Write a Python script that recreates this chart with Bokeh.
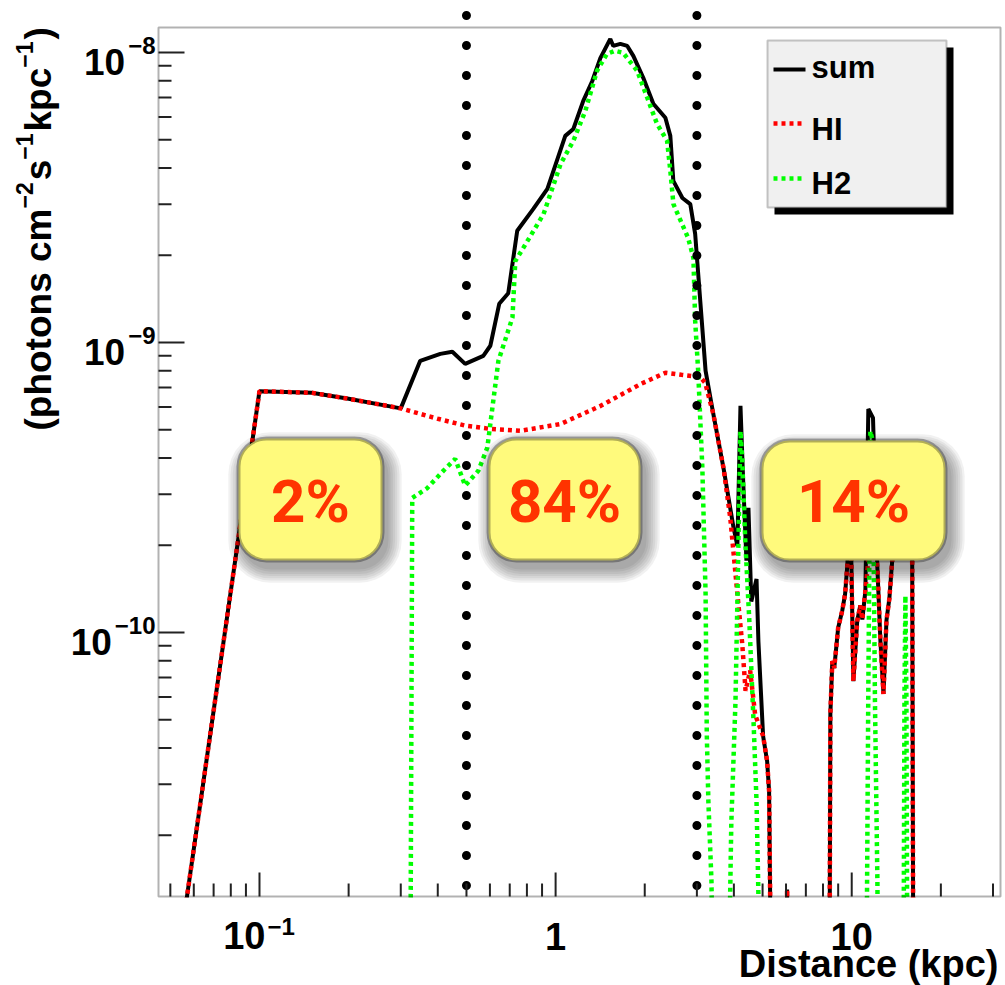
import math
from bokeh.plotting import figure
from bokeh.models import Range1d, Label, BoxAnnotation
from bokeh.embed import file_html
from bokeh.resources import INLINE

# ---------------- data ----------------
sum_x = [0.05, 0.1, 0.15, 0.2, 0.3, 0.349, 0.408, 0.448, 0.495, 0.570, 0.602, 0.645, 0.692,
         0.742, 0.841, 0.938, 1.078, 1.148, 1.24, 1.33, 1.416, 1.53, 1.566, 1.654, 1.746, 1.83,
         1.977, 2.138, 2.348, 2.44, 2.498, 2.68, 2.85, 2.96, 3.08, 3.21, 3.41, 3.69, 3.98, 4.11,
         4.21, 4.30, 4.41, 4.48, 4.58, 4.77, 4.84, 5.02, 5.18, 5.26, 5.35, 6.0, 6.05, 6.1,
         8.41, 8.47, 8.60, 8.73, 9.0, 9.29, 9.5, 9.66, 9.82, 9.97, 10.13, 10.44, 10.69, 10.86,
         11.12, 11.38, 11.8, 12.21, 12.5, 12.8, 13.1, 13.4, 13.7, 14.2, 15.2, 16.0, 16.15]
sum_y = [4.9e-12, 6.8e-10, 6.71e-10, 6.4e-10, 5.93e-10, 8.65e-10, 9.14e-10, 9.29e-10, 8.44e-10,
         9.0e-10, 9.75e-10, 1.36e-9, 1.48e-9, 2.43e-9, 2.89e-9, 3.39e-9, 5.16e-9, 5.45e-9, 6.81e-9,
         7.98e-9, 9.57e-9, 1.114e-8, 1.054e-8, 1.071e-8, 1.054e-8, 9.74e-9, 8.18e-9, 6.66e-9,
         5.96e-9, 5.16e-9, 3.61e-9, 3.15e-9, 3.0e-9, 2.37e-9, 1.39e-9, 7.98e-10, 5.66e-10, 3.69e-10,
         2.33e-10, 1.99e-10, 6.05e-10, 3.33e-10, 1.77e-10, 2.69e-10, 1.28e-10, 1.53e-10, 9.35e-11,
         4.4e-11, 3.6e-11, 2.84e-11, 5e-12, 5e-12, 1.3e-11, 5e-12,
         5e-12, 5.24e-11, 7.97e-11, 7.55e-11, 1.04e-10, 1.19e-10, 1.36e-10, 1.7e-10, 2.4e-10,
         1.77e-10, 6.8e-11, 1.1e-10, 1.24e-10, 1.11e-10, 1.39e-10, 5.9e-10, 5.5e-10, 1.67e-10,
         9.35e-11, 6.14e-11, 1.1e-10, 1.31e-10, 1.77e-10, 2.4e-10, 2.4e-10, 2.0e-10, 5e-12]

hi_x = [0.05, 0.1, 0.15, 0.2, 0.3, 0.4, 0.5, 0.6, 0.76, 1.04, 1.42, 1.94, 2.35, 2.66, 3.08, 3.20,
        3.41, 3.69, 3.89, 4.11, 4.27, 4.38, 4.54, 4.72, 5.02, 5.18, 5.26, 5.35, 6.0, 6.05, 6.1,
        8.41, 8.47, 8.60, 8.73, 9.0, 9.29, 9.5, 9.66, 9.82, 9.97, 10.13, 10.44, 10.69, 10.86,
        11.12, 11.5, 12.0, 12.21, 12.5, 12.8, 13.1, 13.4, 13.7, 14.2, 15.2, 16.0, 16.15]
hi_y = [4.9e-12, 6.8e-10, 6.71e-10, 6.4e-10, 5.93e-10, 5.46e-10, 5.16e-10, 5.04e-10, 4.96e-10,
        5.24e-10, 6.05e-10, 7.2e-10, 7.87e-10, 7.74e-10, 7.6e-10, 7.26e-10, 5.66e-10, 3.69e-10,
        2.48e-10, 1.36e-10, 9.1e-11, 6.3e-11, 7.4e-11, 5.2e-11, 4.4e-11, 3.6e-11, 2.84e-11, 5e-12,
        5e-12, 1.3e-11, 5e-12,
        5e-12, 5.24e-11, 7.97e-11, 7.55e-11, 1.04e-10, 1.19e-10, 1.36e-10, 1.7e-10, 2.4e-10,
        1.77e-10, 6.8e-11, 1.1e-10, 1.24e-10, 1.11e-10, 1.39e-10, 2.0e-10, 2.0e-10, 1.67e-10,
        9.35e-11, 6.14e-11, 1.1e-10, 1.31e-10, 1.77e-10, 2.4e-10, 2.4e-10, 2.0e-10, 5e-12]

h2_x = [0.323, 0.328, 0.3687, 0.4175, 0.458, 0.495, 0.548, 0.588, 0.616, 0.641, 0.715, 0.731,
        0.778, 0.91, 1.04, 1.148, 1.26, 1.38, 1.49, 1.585, 1.69, 1.886, 2.04, 2.20, 2.38, 2.44,
        2.50, 2.80, 2.92, 2.96, 3.03, 3.13, 3.21, 3.24, 3.28, 3.36, 3.40,
        3.83, 3.92, 4.05, 4.11, 4.21, 4.27, 4.37, 4.51, 4.66, 4.77, 4.84, 4.91,
        11.2, 11.27, 11.37, 11.56, 11.77, 11.98, 12.21, 12.3,
        14.95, 15.07, 15.18, 15.30, 15.42]
h2_y = [5e-12, 2.91e-10, 3.15e-10, 3.61e-10, 3.97e-10, 3.21e-10, 3.61e-10, 4.34e-10, 6.3e-10,
        8.65e-10, 1.22e-9, 1.91e-9, 2.12e-9, 2.77e-9, 4.13e-9, 4.96e-9, 6.29e-9, 8.65e-9, 9.89e-9,
        1.014e-8, 9.98e-9, 8.65e-9, 6.98e-9, 5.68e-9, 4.96e-9, 3.91e-9, 3.0e-9, 2.30e-9, 1.96e-9,
        1.19e-9, 7.98e-10, 3.70e-10, 1.36e-10, 4.47e-11, 2.62e-11, 1.39e-11, 5e-12,
        5e-12, 2.19e-11, 5.8e-11, 1.28e-10, 4.95e-10, 3.91e-10, 2.07e-10, 1.10e-10, 4.95e-11,
        2.62e-11, 1.25e-11, 5e-12,
        5e-12, 1.39e-11, 5.8e-11, 4.95e-10, 4.6e-10, 5.8e-11, 1.39e-11, 5e-12,
        5e-12, 6e-11, 1.34e-10, 6e-11, 5e-12]

boundaries = [0.5, 3.0]
fractions = ["2%", "84%", "14%"]
legend_names = ["sum", "HI", "H2"]
x_major = [0.1, 1, 10]
x_tick_text = [("10", "\u22121"), ("1", ""), ("10", "")]
y_major = [1e-10, 1e-9, 1e-8]
y_tick_text = [("10", "\u221210"), ("10", "\u22129"), ("10", "\u22128")]
x_title = "Distance (kpc)"
y_title_parts = [("(photons cm", False), ("\u22122", True), ("s", False), ("\u22121", True),
                 ("kpc", False), ("\u22121", True), (")", False)]

# ---------------- layout helpers ----------------
CW, CH = 1005, 985
XMIN, XMAX = 0.0456, 31.8          # axis range of the plotting frame
YMIN, YMAX = 1.23e-11, 1.22e-8
FL, FR, FT, FB = 158, 1000, 27, 896  # frame edges in canvas pixels
LX0, LX1 = math.log10(XMIN), math.log10(XMAX)
LY0, LY1 = math.log10(YMIN), math.log10(YMAX)

def xd(px):
    return 10 ** (LX0 + (px - FL) / (FR - FL) * (LX1 - LX0))

def yd(py):
    return 10 ** (LY0 + (FB - py) / (FB - FT) * (LY1 - LY0))

def xp(v):
    return FL + (math.log10(v) - LX0) / (LX1 - LX0) * (FR - FL)

def yp(v):
    return FB - (math.log10(v) - LY0) / (LY1 - LY0) * (FB - FT)

W = {'(': 333, ')': 333, 'p': 611, 'h': 611, 'o': 611, 't': 333, 'n': 611, 's': 556, ' ': 278,
     'c': 556, 'm': 889, 'k': 556, '\u2212': 584}

def tw(s, size):
    return sum(W.get(ch, 556) for ch in s) * size / 1000.0

BL = 0.37  # baseline correction of Label text (fraction of font size)
FONT = "Liberation Sans"

p = figure(width=CW, height=CH, x_axis_type="log", y_axis_type="log",
           x_range=Range1d(xd(0), xd(CW)), y_range=Range1d(yd(CH), yd(0)),
           output_backend="svg", toolbar_location=None,
           x_axis_location=None, y_axis_location=None,
           min_border=0, min_border_left=0, min_border_right=0, min_border_top=0,
           min_border_bottom=0)
p.background_fill_color = "white"
p.border_fill_color = "white"
p.outline_line_color = None
p.grid.visible = False

def lab(px, py, text, size, align="left", angle=0.0, color="black", font=FONT):
    if angle:
        x, y = xd(px - BL * size), yd(py)
    else:
        x, y = xd(px), yd(py - BL * size)
    p.add_layout(Label(x=x, y=y, text=text, angle=angle, text_font=font,
                       text_font_style="bold", text_font_size=f"{size}px", text_color=color,
                       text_align=align, text_baseline="alphabetic"))

def minors(lo, hi):
    out = []
    for e in range(int(math.floor(math.log10(lo))), int(math.ceil(math.log10(hi))) + 1):
        for m in range(2, 10):
            v = m * 10 ** e
            if lo < v < hi:
                out.append(v)
    return out

# ---- curves ----
p.line(sum_x, sum_y, line_color="black", line_width=4)
p.line(hi_x, hi_y, line_color="#ff0000", line_width=4.5, line_dash="4 4")
p.line(h2_x, h2_y, line_color="#00ff00", line_width=4.5, line_dash="4 4")

# ---- region boundaries (dotted) ----
for b in boundaries:
    p.line([b, b], [yd(0), yd(FB)], line_color="black", line_width=9, line_dash="0 30",
           line_dash_offset=15, line_cap="round")

# ---- ticks ----
xmaj, xmin_ = x_major, minors(XMIN, XMAX)
ymaj, ymin_ = y_major, minors(YMIN, YMAX)
tick_style = dict(line_color="#222222", line_width=2)
p.segment(x0=xmaj, x1=xmaj, y0=[YMIN] * len(xmaj), y1=[yd(FB - 24)] * len(xmaj), **tick_style)
p.segment(x0=xmin_, x1=xmin_, y0=[YMIN] * len(xmin_), y1=[yd(FB - 13)] * len(xmin_), **tick_style)
p.segment(y0=ymaj, y1=ymaj, x0=[XMIN] * len(ymaj), x1=[xd(FL + 26)] * len(ymaj), **tick_style)
p.segment(y0=ymin_, y1=ymin_, x0=[XMIN] * len(ymin_), x1=[xd(FL + 13)] * len(ymin_), **tick_style)

# ---- mask below the frame, then the frame ----
p.add_layout(BoxAnnotation(left=xd(0), right=xd(CW), top=yd(FB + 1), bottom=yd(CH),
                           fill_color="white", fill_alpha=1, line_alpha=0))
p.add_layout(BoxAnnotation(left=XMIN, right=XMAX, top=YMAX, bottom=YMIN, fill_alpha=0,
                           line_color="black", line_width=2))

# ---- percentage boxes ----
box_px = [(238, 438, 382, 560), (488, 438, 640, 560), (761, 440, 945, 560)]
for (l, t, r, bt), txt in zip(box_px, fractions):
    for k in range(7):
        e = 1 + 2.2 * k
        p.add_layout(BoxAnnotation(left=xd(l + 4 - e), right=xd(r + 5 + e), top=yd(t + 8 - e),
                                   bottom=yd(bt + 8 + e), fill_color="black", fill_alpha=0.055,
                                   line_alpha=0, border_radius=int(28 + e)))
    p.add_layout(BoxAnnotation(left=xd(l), right=xd(r), top=yd(t), bottom=yd(bt),
                               fill_color="#fffa7c", fill_alpha=1, line_color="black",
                               line_width=4, border_radius=28))
    lab((l + r) / 2, bt - 37, txt, 60, align="center", color="#ff3300", font="Roboto")

# ---- legend ----
p.add_layout(BoxAnnotation(left=xd(774), right=xd(953), top=yd(47), bottom=yd(214),
                           fill_color="black", fill_alpha=1, line_alpha=0))
p.add_layout(BoxAnnotation(left=xd(767), right=xd(946), top=yd(40), bottom=yd(207),
                           fill_color="#f0f0f0", fill_alpha=1, line_color="#444444", line_width=2))
leg_styles = [dict(line_color="black", line_width=4),
              dict(line_color="#ff0000", line_width=4.5, line_dash="4 4"),
              dict(line_color="#00ff00", line_width=4.5, line_dash="4 4")]
leg_line_y = [69, 123, 178]
leg_text_y = [78, 140, 194]
for name, st, ly, ty in zip(legend_names, leg_styles, leg_line_y, leg_text_y):
    r = p.line([xd(773), xd(805)], [yd(ly), yd(ly)], **st)
    r.level = "overlay"
    lab(811, ty, name, 31)

# ---- tick labels (ROOT style 10^n) ----
for v, (base, ex) in zip(y_major, y_tick_text):
    ty = yp(v)
    lab(155, ty + 2, ex, 24, align="right")
    lab(155 - tw(ex, 24) - 3, ty + 23, base, 37, align="right")
for v, (base, ex) in zip(x_major, x_tick_text):
    tx = xp(v)
    if ex:
        lab(tx + 6, 949, base, 38, align="right")
        lab(tx + 8, 935, ex, 24, align="left")
    else:
        lab(tx, 950, base, 38, align="center")

# ---- axis titles ----
lab(998, 978, x_title, 38, align="right")
ypos = 430
for txt, sup in y_title_parts:
    size = 23 if sup else 37
    bx = 52 - (19 if sup else 0)
    lab(bx, ypos, txt, size, align="left", angle=math.pi / 2)
    ypos -= tw(txt, size) + (2 if sup else 0)

open("out.html", "w").write(file_html(p, INLINE))
